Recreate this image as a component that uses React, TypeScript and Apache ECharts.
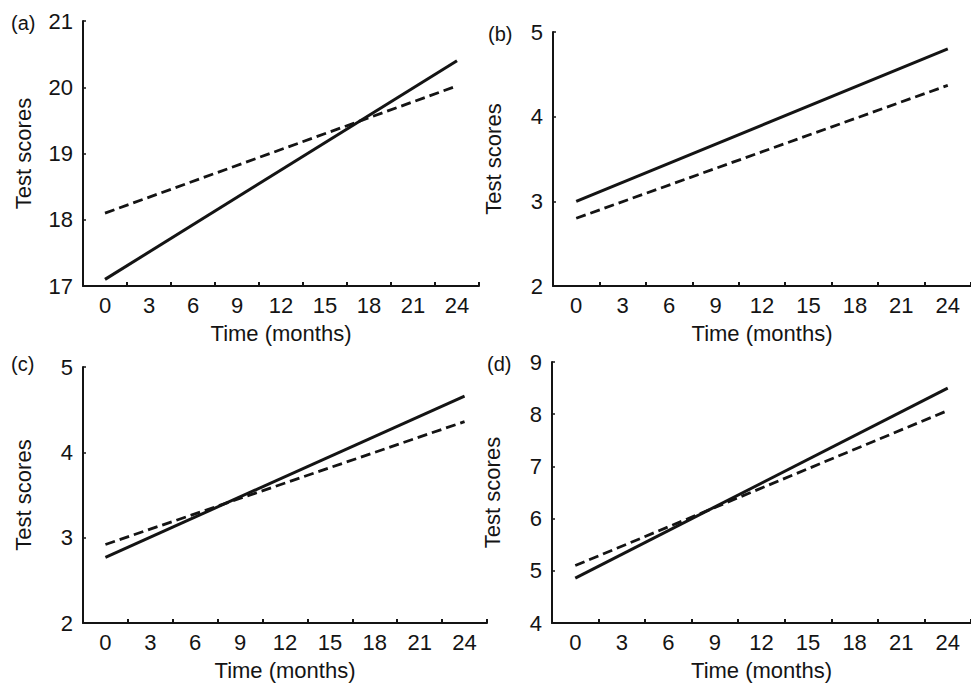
import React, { useEffect, useRef } from "react";
import * as echarts from "echarts";

const months = [0, 24];
const xLabelValues = [0, 3, 6, 9, 12, 15, 18, 21, 24];
const xTickValues = [1.5, 4.5, 7.5, 10.5, 13.5, 16.5, 19.5, 22.5, 25.5];

const aSolid = [17.1, 20.4];
const aDashed = [18.1, 20.02];
const bSolid = [3.0, 4.8];
const bDashed = [2.8, 4.37];
const cSolid = [2.77, 4.66];
const cDashed = [2.92, 4.36];
const dSolid = [4.86, 8.5];
const dDashed = [5.1, 8.07];

const yRanges = [
  [17, 21],
  [2, 5],
  [2, 5],
  [4, 9],
];
const panelLabels = ["(a)", "(b)", "(c)", "(d)"];
const xName = "Time (months)";
const yName = "Test scores";

const FONT = "'Liberation Sans', Arial, Helvetica, sans-serif";
const INK = "#141414";

const grids = [
  { left: 83, top: 21, width: 396, height: 265 },
  { left: 553, top: 32, width: 432, height: 254 },
  { left: 83, top: 367, width: 404, height: 256 },
  { left: 552, top: 362, width: 427, height: 261 },
];
const labelPos = [
  [11, 23],
  [488, 34],
  [11, 364],
  [487, 364],
];

export default function App() {
  const ref = useRef<HTMLDivElement>(null);
  useEffect(() => {
    if (!ref.current) return;
    const chart = echarts.init(ref.current, null, { renderer: "svg" });
    const solids = [aSolid, bSolid, cSolid, dSolid];
    const dashes = [aDashed, bDashed, cDashed, dDashed];
    const axisLine = { show: true, onZero: false, lineStyle: { color: INK, width: 2 } };
    const option: any = {
      animation: false,
      backgroundColor: "#ffffff",
      grid: grids.map((g) => ({ ...g, containLabel: false })),
      xAxis: grids.map((_, i) => ({
        type: "value",
        gridIndex: i,
        min: -1.5,
        max: 25.5,
        name: xName,
        nameLocation: "middle",
        nameGap: 36,
        nameTextStyle: { fontFamily: FONT, fontSize: 22, color: INK },
        axisLine,
        axisTick: { show: true, inside: true, length: 4, customValues: xTickValues, lineStyle: { color: INK, width: 2 } },
        axisLabel: { show: true, customValues: xLabelValues, fontFamily: FONT, fontSize: 22, color: INK, margin: 8 },
        splitLine: { show: false },
      })),
      yAxis: grids.map((_, i) => ({
        type: "value",
        gridIndex: i,
        min: yRanges[i][0],
        max: yRanges[i][1],
        interval: 1,
        name: yName,
        nameLocation: "middle",
        nameGap: 49,
        nameTextStyle: { fontFamily: FONT, fontSize: 22, color: INK },
        axisLine,
        axisTick: { show: true, inside: true, length: 3, lineStyle: { color: INK, width: 1.5 } },
        axisLabel: { fontFamily: FONT, fontSize: 22, color: INK, margin: 10 },
        splitLine: { show: false },
      })),
      series: [
        ...solids.map((vals, i) => ({
          type: "line",
          name: "Solid line",
          xAxisIndex: i,
          yAxisIndex: i,
          data: months.map((m, k) => [m, vals[k]]),
          symbol: "none",
          lineStyle: { color: INK, width: 3, type: "solid" },
        })),
        ...dashes.map((vals, i) => ({
          type: "line",
          name: "Dashed line",
          xAxisIndex: i,
          yAxisIndex: i,
          data: months.map((m, k) => [m, vals[k]]),
          symbol: "none",
          lineStyle: { color: INK, width: 2.8, type: [10, 5] },
        })),
      ],
      graphic: panelLabels.map((t, i) => ({
        type: "text",
        x: labelPos[i][0],
        y: labelPos[i][1],
        style: {
          text: t,
          fontFamily: FONT,
          fontSize: 20,
          fill: INK,
          textVerticalAlign: "middle",
          textAlign: "left",
        },
      })),
    };
    chart.setOption(option);
    return () => chart.dispose();
  }, []);
  return (
    <div
      ref={ref}
      style={{ position: "absolute", left: 0, top: 0, width: 971, height: 683 }}
    />
  );
}
